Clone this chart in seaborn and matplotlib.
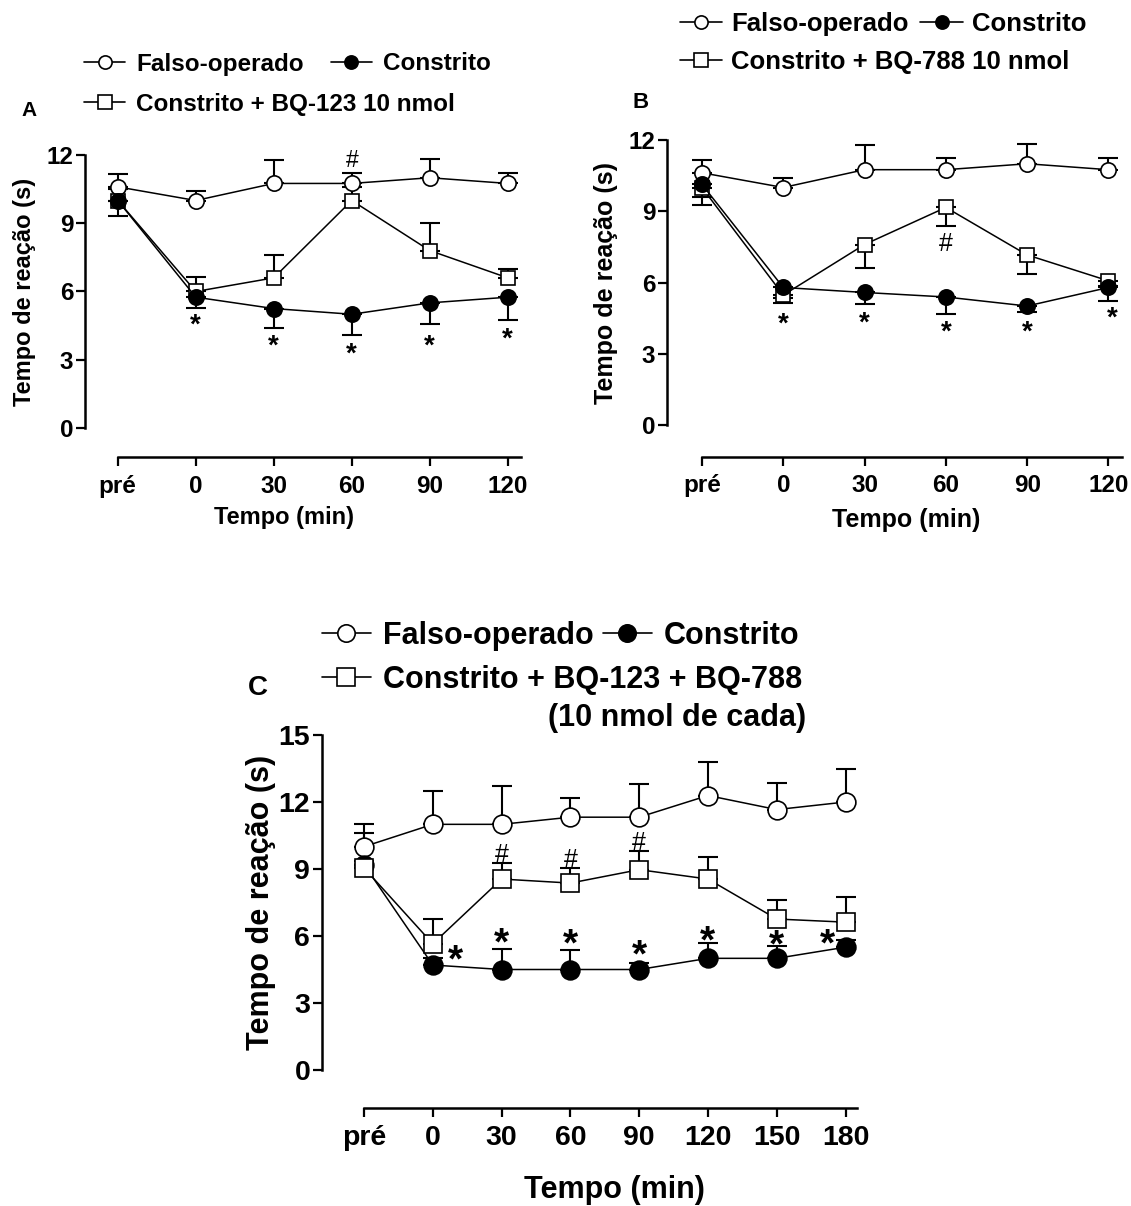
import numpy as np
import pandas as pd
import matplotlib
matplotlib.use('Agg')
import matplotlib.pyplot as plt
import seaborn as sns
from matplotlib.lines import Line2D

sns.set_theme(style='ticks')
plt.rcParams['font.family'] = ['Liberation Sans', 'DejaVu Sans']
plt.rcParams['font.weight'] = 'bold'
plt.rcParams['axes.labelweight'] = 'bold'
plt.rcParams['text.color'] = 'black'
plt.rcParams['axes.labelcolor'] = 'black'
plt.rcParams['xtick.color'] = 'black'
plt.rcParams['ytick.color'] = 'black'
plt.rcParams['legend.labelcolor'] = 'black'

# ---------------- data ----------------
labels_ab = ['pré', '0', '30', '60', '90', '120']
labels_c = ['pré', '0', '30', '60', '90', '120', '150', '180']

# Panel A
a_sham = [10.6, 10.0, 10.75, 10.75, 11.0, 10.75]
a_sham_err = [0.55, 0.4, 1.05, 0.47, 0.82, 0.47]
a_cci = [10.0, 5.75, 5.25, 5.0, 5.5, 5.75]
a_cci_err = [0.7, 0.48, 0.85, 0.92, 0.95, 1.0]
a_bq = [10.0, 6.0, 6.6, 10.0, 7.8, 6.6]
a_bq_err = [0.5, 0.62, 1.0, 0.6, 1.2, 0.4]
a_star_x = [1, 2, 3, 4, 5]
a_star_y = [4.8, 3.9, 3.55, 3.9, 4.2]
a_hash_x = [3]
a_hash_y = [11.8]

# Panel B
b_sham = [10.62, 10.0, 10.75, 10.75, 11.0, 10.75]
b_sham_err = [0.55, 0.4, 1.05, 0.5, 0.82, 0.5]
b_cci = [10.13, 5.79, 5.58, 5.39, 5.01, 5.79]
b_cci_err = [0.87, 0.45, 0.5, 0.72, 0.27, 0.57]
b_bq = [10.0, 5.47, 7.6, 9.16, 7.16, 6.07]
b_bq_err = [0.39, 0.35, 1.0, 0.8, 0.82, 0.2]
b_star_x = [1, 2, 3, 4, 5.05]
b_star_y = [4.5, 4.55, 4.2, 4.2, 4.75]
b_hash_x = [3]
b_hash_y = [7.7]

# Panel C
c_sham = [10.0, 11.0, 11.0, 11.32, 11.32, 12.29, 11.66, 12.0]
c_sham_err = [1.0, 1.5, 1.7, 0.87, 1.47, 1.5, 1.2, 1.5]
c_cci = [9.2, 4.7, 4.5, 4.5, 4.5, 5.0, 5.0, 5.5]
c_cci_err = [1.4, 0.3, 0.93, 0.87, 0.3, 0.7, 0.55, 0.3]
c_bq = [9.05, 5.65, 8.55, 8.37, 8.97, 8.55, 6.76, 6.62]
c_bq_err = [0.3, 1.12, 0.72, 0.68, 0.85, 0.97, 0.87, 1.13]
c_star_x = [1.33, 2, 3, 4, 5, 6, 6.74]
c_star_y = [5.3, 6.05, 5.98, 5.5, 6.15, 5.95, 6.0]
c_hash_x = [2, 3, 4]
c_hash_y = [9.7, 9.47, 10.22]

leg_sham = 'Falso-operado'
leg_cci = 'Constrito'
leg_a = 'Constrito + BQ-123 10 nmol'
leg_b = 'Constrito + BQ-788 10 nmol'
leg_c = 'Constrito + BQ-123 + BQ-788'
leg_c2 = '(10 nmol de cada)'
ylab = 'Tempo de reação (s)'
xlab = 'Tempo (min)'

# ---------------- figure ----------------
W, H = 1131, 1206
fig = plt.figure(figsize=(W / 100, H / 100), dpi=100)
fig.patch.set_facecolor('white')


def px_axes(left, top, right, bottom):
    return fig.add_axes([left / W, 1 - bottom / H, (right - left) / W, (bottom - top) / H])


def series(ax, y, err, up, marker, ms, fill, z):
    x = np.arange(len(y))
    e = np.array(err)
    zero = np.zeros_like(e)
    yerr = [zero, e] if up else [e, zero]
    ax.errorbar(x, y, yerr=yerr, fmt='none', ecolor='black', elinewidth=1.5,
                capsize=7, capthick=1.5, zorder=2, clip_on=False)
    sns.lineplot(x=x, y=y, ax=ax, color='black', linewidth=1.1, marker=marker,
                 markersize=ms, markerfacecolor=('black' if fill else 'white'),
                 markeredgecolor='black', markeredgewidth=1.2, zorder=z, clip_on=False)


def marks(ax, xs, ys, sym, size, frac, weight='bold'):
    for x, y in zip(xs, ys):
        ax.annotate(sym, (x, y), xytext=(0, -frac * size), textcoords='offset points',
                    ha='center', va='baseline', fontsize=size, fontweight=weight,
                    color='black', annotation_clip=False, zorder=6)


def style_axes(ax, labels, ymax, xmax, offset, tfs, lfs, ylab_x, xlab_xy, tlen):
    n = len(labels)
    ax.set_ylim(0, ymax)
    ax.set_xlim(-xmax[0], xmax[1])
    ax.set_yticks(np.arange(0, ymax + 0.1, 3))
    ax.set_yticklabels([str(int(v)) for v in np.arange(0, ymax + 0.1, 3)])
    ax.set_xticks(np.arange(n))
    ax.set_xticklabels(labels)
    sns.despine(ax=ax)
    ax.spines['bottom'].set_position(('outward', offset))
    ax.spines['bottom'].set_bounds(0, n - 1 + 0.17)
    ax.spines['left'].set_bounds(0, ymax)
    for s in ('left', 'bottom'):
        ax.spines[s].set_linewidth(1.8)
        ax.spines[s].set_color('black')
    ax.tick_params(axis='both', direction='out', length=tlen, width=1.6, colors='black',
                   labelsize=tfs)
    ax.tick_params(axis='y', pad=2)
    ax.tick_params(axis='x', pad=6)
    for t in ax.get_xticklabels() + ax.get_yticklabels():
        t.set_fontweight('bold')
    ax.set_ylabel(ylab, fontsize=lfs, fontweight='bold', color='black')
    ax.set_xlabel(xlab, fontsize=lfs, fontweight='bold', color='black')
    ax.yaxis.set_label_coords(ylab_x, 0.5)
    ax.xaxis.set_label_coords(*xlab_xy)
    ax.xaxis.label.set_va('top')
    ax.set_facecolor('none')
    ax.grid(False)


def handle(marker, fill, ms):
    return Line2D([], [], color='black', lw=1.2, marker=marker, markersize=ms,
                  markerfacecolor=('black' if fill else 'white'), markeredgecolor='black',
                  markeredgewidth=1.2)


def legend_row(handles, labels, x, y, fs, hl, htp, cs):
    leg = fig.legend(handles, labels, loc='center left', bbox_to_anchor=(x / W, 1 - y / H),
                     ncol=len(handles), frameon=False, handlelength=hl, handletextpad=htp,
                     columnspacing=cs, borderpad=0, borderaxespad=0,
                     prop={'weight': 'bold', 'size': fs})
    for t in leg.get_texts():
        t.set_color('black')
    return leg


# ---------- Panel A ----------
axA = px_axes(85, 155, 85 + 5.62 * 78, 428)
series(axA, a_sham, a_sham_err, True, 'o', 11, False, 3)
series(axA, a_bq, a_bq_err, True, 's', 10.5, False, 4)
series(axA, a_cci, a_cci_err, False, 'o', 11, True, 5)
style_axes(axA, labels_ab, 12, (0.42, 5.2), 21, 17.5, 17, -0.112, (0.455, -0.285), 6.5)
marks(axA, a_star_x, a_star_y, '*', 20, 0.5)
marks(axA, a_hash_x, a_hash_y, '#', 16.5, 0.34, 'normal')

# ---------- Panel B ----------
axB = px_axes(667, 140, 667 + 5.63 * 81.3, 425)
series(axB, b_sham, b_sham_err, True, 'o', 11, False, 3)
series(axB, b_bq, b_bq_err, False, 's', 10.5, False, 4)
series(axB, b_cci, b_cci_err, False, 'o', 11, True, 5)
style_axes(axB, labels_ab, 12, (0.43, 5.2), 23, 17.5, 18, -0.107, (0.522, -0.29), 6.5)
marks(axB, b_star_x, b_star_y, '*', 20, 0.5)
marks(axB, b_hash_x, b_hash_y, '#', 18, 0.34, 'normal')

# ---------- Panel C ----------
axC = px_axes(322, 735, 322 + 7.81 * 68.8, 1070)
series(axC, c_sham, c_sham_err, True, 'o', 13.5, False, 3)
series(axC, c_cci, c_cci_err, True, 'o', 13.5, True, 4)
series(axC, c_bq, c_bq_err, True, 's', 13.5, False, 5)
style_axes(axC, labels_c, 15, (0.61, 7.2), 27, 20.5, 22, -0.086, (0.545, -0.313), 6.5)
marks(axC, c_star_x, c_star_y, '*', 28, 0.5)
marks(axC, c_hash_x, c_hash_y, '#', 18, 0.34, 'normal')

# ---------- Legends ----------
hs = handle('o', False, 9.5)
hc = handle('o', True, 9.5)
hq = handle('s', False, 9.5)
legend_row([hs, hc], [leg_sham, leg_cci], 84, 64, 17.5, 1.7, 0.45, 1.1)
legend_row([hq], [leg_a], 84, 104, 17.5, 1.7, 0.45, 1.1)
legend_row([hs, hc], [leg_sham, leg_cci], 680, 24, 18.5, 1.65, 0.35, 0.45)
legend_row([hq], [leg_b], 680, 62, 18.5, 1.65, 0.35, 0.45)
hs2 = handle('o', False, 12.5)
hc2 = handle('o', True, 12.5)
hq2 = handle('s', False, 12.5)
legend_row([hs2, hc2], [leg_sham, leg_cci], 322, 636, 22, 1.6, 0.4, 0.3)
legend_row([hq2], [leg_c], 322, 680, 22, 1.6, 0.4, 0.3)
fig.text(806 / W, 1 - 718 / H, leg_c2, ha='right', va='center', fontsize=22,
         fontweight='bold', color='black')

# panel letters
fig.text(29 / W, 1 - 110 / H, 'A', ha='center', va='center', fontsize=15, fontweight='bold', color='black')
fig.text(641 / W, 1 - 103 / H, 'B', ha='center', va='center', fontsize=16, fontweight='bold', color='black')
fig.text(258 / W, 1 - 688 / H, 'C', ha='center', va='center', fontsize=20, fontweight='bold', color='black')

fig.savefig('out.png', dpi=100, facecolor='white')
